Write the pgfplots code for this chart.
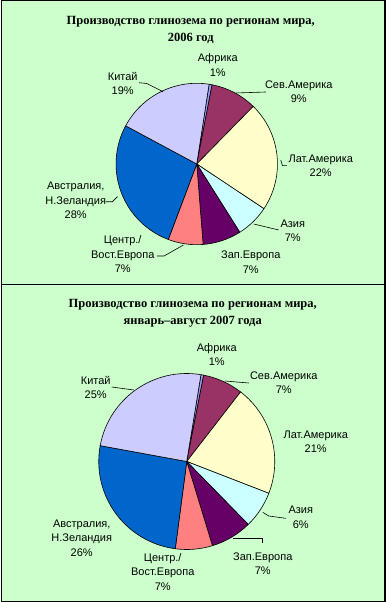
\documentclass[border=0pt]{standalone}
\usepackage{pgfplots}
\pgfplotsset{compat=1.18}
\usepackage{pgfplotstable}
\usepackage{fontspec}
\setmainfont{Liberation Sans}
\newfontfamily\titlefont{Liberation Serif}

\definecolor{bg}{HTML}{CCFFCC}
\definecolor{cAf}{HTML}{9999FF}
\definecolor{cSev}{HTML}{993366}
\definecolor{cLat}{HTML}{FFFFCC}
\definecolor{cAsia}{HTML}{CCFFFF}
\definecolor{cZap}{HTML}{660066}
\definecolor{cCen}{HTML}{FF8080}
\definecolor{cAus}{HTML}{0066CC}
\definecolor{cChi}{HTML}{CCCCFF}

% 2006
\pgfplotstableread{
region value
Africa 0.6
SevAmerica 9.3
LatAmerica 22.0
Asia 6.7
WestEurope 7.7
CentEurope 7.0
Australia 27.1
China 19.6
}\tabA

% Jan-Aug 2007
\pgfplotstableread{
region value
Africa 0.5
SevAmerica 7.4
LatAmerica 20.4
Asia 6.8
WestEurope 7.6
CentEurope 6.8
Australia 25.8
China 24.7
}\tabB

\newcommand{\slicecol}[1]{\ifcase#1 cAf\or cSev\or cLat\or cAsia\or cZap\or cCen\or cAus\or cChi\fi}

% #1 table, #2 cx, #3 cy, #4 radius (bp), #5 start angle
\newcommand{\drawpie}[5]{%
  \pgfmathsetmacro{\curang}{#5}%
  \pgfplotstablegetrowsof{#1}%
  \pgfmathtruncatemacro{\nrows}{\pgfplotsretval-1}%
  \pgfplotsforeachungrouped \i in {0,...,\nrows}{%
    \pgfplotstablegetelem{\i}{value}\of{#1}%
    \pgfmathsetmacro{\endang}{\curang-3.6*\pgfplotsretval}%
    \edef\temp{\noexpand\filldraw[fill=\slicecol{\i}, draw=black, line width=0.6bp, line join=round] (axis cs:#2,#3) -- ++(\curang:#4bp) arc[start angle=\curang, end angle=\endang, radius=#4bp] -- cycle;}%
    \temp
    \let\curang\endang
  }%
}

\tikzset{lbl/.style={align=center, inner sep=0pt, font=\fontsize{11bp}{14.5bp}\selectfont},
  ttl/.style={align=center, inner sep=0pt, font=\titlefont\bfseries\fontsize{12.5bp}{16.5bp}\selectfont},
  lead/.style={black, line width=0.6bp}}

\pgfplotsset{panel/.style={hide axis, scale only axis, x=1bp, y=1bp,
  xmin=0, xmax=385, ymin=0, ymax=602, y dir=reverse, clip=false}}

\begin{document}
\begin{tikzpicture}
% ---------- panel 1: 2006 ----------
\begin{axis}[panel]
\draw[fill=bg, line width=1.5bp] (axis cs:0.75,0.75) rectangle (axis cs:384.25,601.25);
\draw[line width=1.5bp] (axis cs:0,284.3) -- (axis cs:385,284.3);
\node[ttl] at (axis cs:190,30) {Производство глинозема по регионам мира,\\2006 год};
\drawpie{\tabA}{196}{164}{80.7}{81.2}
\node[lbl] at (axis cs:217,65) {Африка\\1\%};
\node[lbl] at (axis cs:298,91.5) {Сев.Америка\\9\%};
\node[lbl] at (axis cs:320,165.5) {Лат.Америка\\22\%};
\node[lbl] at (axis cs:292,230.5) {Азия\\7\%};
\node[lbl] at (axis cs:250,262) {Зап.Европа\\7\%};
\node[lbl] at (axis cs:122,254.5) {Центр./\\Вост.Европа\\7\%};
\node[lbl] at (axis cs:75,200.5) {Австралия,\\Н.Зеландия\\28\%};
\node[lbl] at (axis cs:122,83.5) {Китай\\19\%};
\draw[lead] (axis cs:235,93) -- (axis cs:265,92);
\draw[lead] (axis cs:280,160) -- (axis cs:281.7,165.7) -- (axis cs:286,165.7);
\draw[lead] (axis cs:253,224) -- (axis cs:278,230);
\draw[lead] (axis cs:182.7,245) -- (axis cs:163.3,256) -- (axis cs:156,256);
\draw[lead] (axis cs:105,201.7) -- (axis cs:111.7,201.7) -- (axis cs:116.7,196.7);
\draw[lead] (axis cs:138.3,82.7) -- (axis cs:146,83.5) -- (axis cs:162.3,91.7);
\end{axis}
% ---------- panel 2: Jan-Aug 2007 ----------
\begin{axis}[panel]
\node[ttl] at (axis cs:192,313.5) {Производство глинозема по регионам мира,\\январь–август 2007 года};
\drawpie{\tabB}{186}{461.5}{88}{80.7}
\node[lbl] at (axis cs:216,354.5) {Африка\\1\%};
\node[lbl] at (axis cs:283,382.5) {Сев.Америка\\7\%};
\node[lbl] at (axis cs:315,441.5) {Лат.Америка\\21\%};
\node[lbl] at (axis cs:300,517.5) {Азия\\6\%};
\node[lbl] at (axis cs:262,563.5) {Зап.Европа\\7\%};
\node[lbl] at (axis cs:162,572) {Центр./\\Вост.Европа\\7\%};
\node[lbl] at (axis cs:81,538) {Австралия,\\Н.Зеландия\\26\%};
\node[lbl] at (axis cs:95,387.5) {Китай\\25\%};
\draw[lead] (axis cs:224,381) -- (axis cs:248,383);
\draw[lead] (axis cs:262,512.3) -- (axis cs:268,516) -- (axis cs:285,518.3);
\draw[lead] (axis cs:232,538) -- (axis cs:262,538) -- (axis cs:262,543);
\draw[lead] (axis cs:111,387) -- (axis cs:133,390);
\end{axis}
\end{tikzpicture}
\end{document}
